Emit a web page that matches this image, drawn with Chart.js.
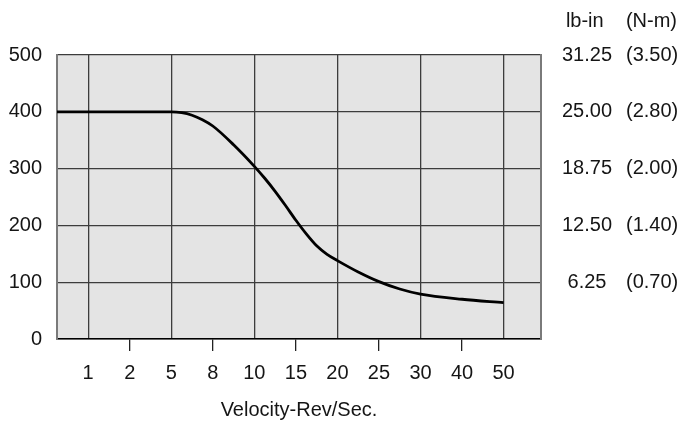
<!DOCTYPE html>
<html><head><meta charset="utf-8">
<script src="https://cdn.jsdelivr.net/npm/chart.js@4/dist/chart.umd.min.js"></script>
<style>html,body{margin:0;padding:0;background:#fff}</style>
</head><body>
<canvas id="c" width="681" height="430"></canvas>
<script>
// ---- data ----
const velocityLabels = ['1','2','5','8','10','15','20','25','30','40','50'];
// position of each curve sample along the velocity axis (in label steps, 0 = "1")
const curvePos   = [-0.75, 2, 2.25, 2.5, 2.75, 3, 3.5, 4, 4.25, 4.5, 4.75, 5, 5.25, 5.5, 5.75, 6, 6.5, 7, 7.5, 8, 9, 10];
const torqueOzIn = [400, 400, 398.5, 394, 386, 375, 342, 304, 283, 260, 235, 209, 185, 164, 149, 138, 118, 101, 88, 79, 70, 64];
const leftTicks  = [0, 100, 200, 300, 400, 500];
const lbInLabels = ['', '6.25', '12.50', '18.75', '25.00', '31.25'];
const nmLabels   = ['', '(0.70)', '(1.40)', '(2.00)', '(2.80)', '(3.50)'];
const xTitle = 'Velocity-Rev/Sec.';
const unitHeader = 'lb-in    (N-m)';

const FONT = "'Liberation Sans', Arial, Helvetica, sans-serif";
const FS = 20;
const TXT = '#151515';
const GRID = '#3c3c3c';

Chart.defaults.font.family = FONT;
Chart.defaults.font.size = FS;
Chart.defaults.color = TXT;

const plotBg = {
  id: 'plotBg',
  beforeDraw(chart) {
    const {ctx, chartArea: a} = chart;
    ctx.save();
    ctx.fillStyle = '#e4e4e4';
    ctx.fillRect(a.left, a.top, a.width, a.height);
    ctx.restore();
  }
};

const yTickMax = leftTicks[leftTicks.length - 1];
const yStep = leftTicks[1] - leftTicks[0];

new Chart(document.getElementById('c'), {
  type: 'line',
  data: {
    datasets: [{
      data: curvePos.map((x, i) => ({x: x, y: torqueOzIn[i]})),
      borderColor: '#000',
      borderWidth: 2.8,
      pointRadius: 0,
      fill: false,
      cubicInterpolationMode: 'monotone',
      yAxisID: 'y'
    }]
  },
  options: {
    responsive: false,
    animation: false,
    devicePixelRatio: 1,
    layout: {padding: {left: 0, right: 4, top: 0, bottom: 0}},
    plugins: {
      legend: {display: false},
      tooltip: {enabled: false},
      title: {
        display: true,
        text: unitHeader,
        align: 'end',
        color: TXT,
        font: {size: FS, weight: 'normal'},
        padding: {top: 9, bottom: 22}
      }
    },
    scales: {
      x: {
        type: 'linear',
        min: -0.75,
        max: 10.9,
        afterBuildTicks: s => { s.ticks = velocityLabels.map((_, i) => ({value: i})); },
        afterFit: s => { s.height = 91; },
        ticks: {
          autoSkip: false,
          maxRotation: 0,
          padding: 10,
          color: TXT,
          callback: v => velocityLabels[v]
        },
        grid: {
          drawOnChartArea: true,
          drawTicks: true,
          tickLength: 12,
          lineWidth: 1.3,
          color: c => (c.index % 2 === 0 ? GRID : 'rgba(0,0,0,0)'),
          tickColor: c => (c.index % 2 === 1 ? '#222' : 'rgba(0,0,0,0)')
        },
        border: {display: true, color: '#000', width: 1.5},
        title: {
          display: true,
          text: xTitle,
          color: TXT,
          font: {size: FS},
          padding: {top: 0, bottom: 8}
        }
      },
      y: {
        position: 'left',
        min: 0,
        max: yTickMax,
        afterFit: s => { s.width = 57; },
        ticks: {stepSize: yStep, padding: 15, color: TXT},
        grid: {color: GRID, lineWidth: 1.3, drawTicks: false},
        border: {display: true, color: '#7a7a7a', width: 2}
      },
      y2: {
        position: 'right',
        min: 0,
        max: yTickMax,
        afterFit: s => { s.width = 80; },
        ticks: {
          stepSize: yStep, padding: 21, crossAlign: 'center', color: TXT,
          callback: v => lbInLabels[Math.round(v / yStep)]
        },
        grid: {drawOnChartArea: false, drawTicks: false},
        border: {display: true, color: '#7a7a7a', width: 2}
      },
      y3: {
        position: 'right',
        min: 0,
        max: yTickMax,
        afterFit: s => { s.width = 56; },
        ticks: {
          stepSize: yStep, padding: 5, crossAlign: 'center', color: TXT,
          callback: v => nmLabels[Math.round(v / yStep)]
        },
        grid: {drawOnChartArea: false, drawTicks: false},
        border: {display: false}
      }
    }
  },
  plugins: [plotBg]
});
</script>
</body></html>
